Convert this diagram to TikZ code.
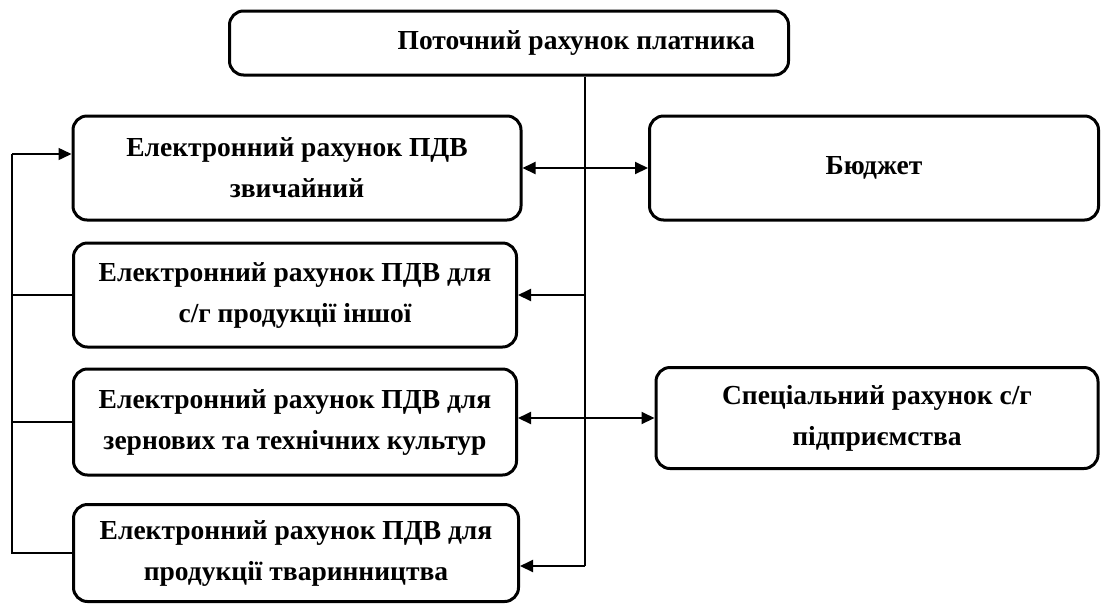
\documentclass[tikz,border=0pt]{standalone}
\usepackage{fontspec}
\setmainfont{Liberation Serif}
\usetikzlibrary{positioning, arrows.meta, calc}

\begin{document}
\begin{tikzpicture}[
    x=1pt, y=-1pt,
    box/.style={draw, rounded corners=14pt, line width=3pt, font=\fontsize{27.5}{41}\selectfont\bfseries, align=center, inner sep=0pt},
    acct/.style={box, minimum width=448pt, minimum height=104pt},
    arrow/.style={-{Triangle[length=13pt,width=12pt]}, line width=2pt},
    dbl/.style={{Triangle[length=13pt,width=12pt]}-{Triangle[length=13pt,width=12pt]}, line width=2pt},
    link/.style={line width=1.5pt},
]
\useasboundingbox (0,0) rectangle (1107,606);

% Source account
\node[box, minimum width=559pt, minimum height=64pt, text width=492pt, align=flush right] (payer) at (509,43) {Поточний рахунок платника};

% Electronic VAT accounts
\node[acct] (vat_reg) at (297,168) {Електронний рахунок ПДВ\\звичайний};
\node[acct, minimum width=443pt] (vat_oth) at (295,295) {Електронний рахунок ПДВ для\\с/г продукції іншої};
\node[acct, minimum width=443pt, minimum height=106pt] (vat_grn) at (295,422) {Електронний рахунок ПДВ для\\зернових та технічних культур};
\node[acct, minimum width=445pt, minimum height=97pt] (vat_liv) at (296,553) {Електронний рахунок ПДВ для\\продукції тваринництва};

% Receivers
\node[acct, minimum width=449pt] (budget) at (874,168) {Бюджет};
\node[acct, minimum width=442pt, minimum height=101pt] (special) at (877,418) {Спеціальний рахунок с/г\\підприємства};

% Right trunk
\coordinate (trunk) at (585,566);
\draw[link, line width=1.2pt] (payer.south -| trunk) -- (trunk);
\draw[arrow] (trunk) -- (trunk -| vat_liv.east);
\draw[arrow] (trunk |- vat_oth) -- (vat_oth.east);
\draw[dbl] (vat_reg) -- (budget);
\draw[dbl] (special.west -| vat_grn.east) -- (special.west);

% Left rail
\coordinate (rail) at (12,154);
\draw[arrow, line width=1.5pt] (rail) -- (rail -| vat_reg.west);
\draw[link] (rail) -- (rail |- vat_liv.west) -- (vat_liv.west);
\foreach \n in {vat_oth, vat_grn} {
    \draw[link] (rail |- \n.west) -- (\n.west);
}

\end{tikzpicture}
\end{document}
